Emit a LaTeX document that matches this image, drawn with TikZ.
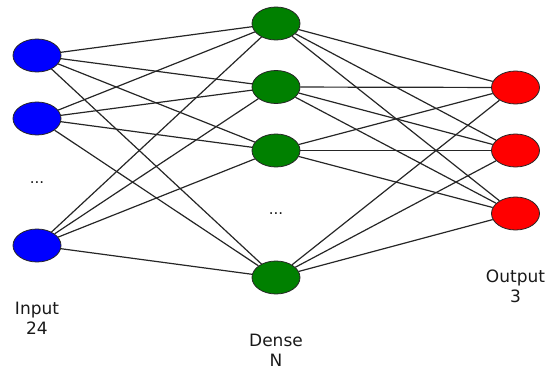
\documentclass[tikz,border=0pt]{standalone}
\usepackage{fontspec}
\setmainfont{DejaVu Sans}
\usetikzlibrary{shapes.geometric}
\begin{document}
\begin{tikzpicture}[x=1pt,y=-1pt,
  neuron/.style={ellipse, draw=black!85, line width=0.8pt, minimum width=48pt, minimum height=33pt, inner sep=0pt},
  inneuron/.style={neuron, fill=blue},
  hidneuron/.style={neuron, fill=green!50!black},
  outneuron/.style={neuron, fill=red},
  link/.style={draw=black!85, line width=1.2pt},
  caption/.style={align=center, font=\fontsize{17}{20}\selectfont, text=black!90},
  gap/.style={font=\fontsize{15}{17}\selectfont, text=black!90}
]
\useasboundingbox (0,0) rectangle (546,369);
% input layer
\node[inneuron] (i1) at (37,55.5) {};
\node[inneuron] (i2) at (37,118.5) {};
\node[inneuron] (i3) at (37,245.5) {};
\node[gap] (idots) at (37,183) {...};
% dense layer
\node[hidneuron] (h1) at (276,23.5) {};
\node[hidneuron] (h2) at (276,87) {};
\node[hidneuron] (h3) at (276,150.5) {};
\node[hidneuron] (h4) at (276,277.5) {};
\node[gap] (hdots) at (276,214) {...};
% output layer
\node[outneuron] (o1) at (515.5,87.5) {};
\node[outneuron] (o2) at (515.5,150.5) {};
\node[outneuron] (o3) at (515.5,213.5) {};
% fully connected links between neighbouring layers
\foreach \a in {i1,i2,i3}
  \foreach \b in {h1,h2,h3,h4}
    \path[link] (\a) -- (\b);
\foreach \a in {h1,h2,h3,h4}
  \foreach \b in {o1,o2,o3}
    \path[link] (\a) -- (\b);
% layer captions
\node[caption] (lin) at (37,318) {Input\\24};
\node[caption] (lhid) at (276,350) {Dense\\N};
\node[caption] (lout) at (515.5,286.5) {Output\\3};
\end{tikzpicture}
\end{document}
